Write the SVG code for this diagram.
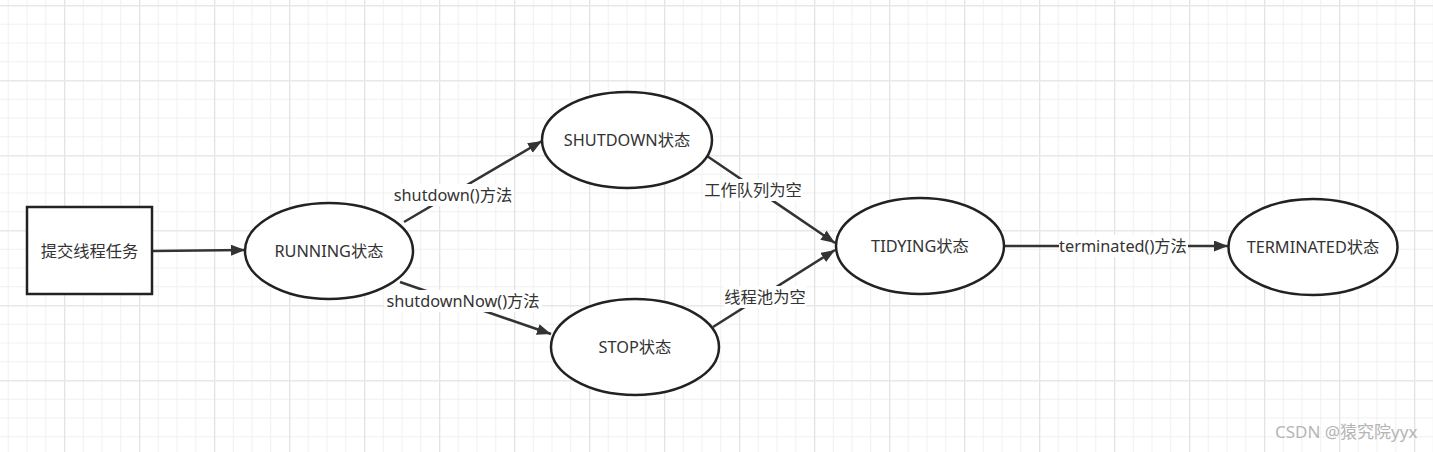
<svg xmlns="http://www.w3.org/2000/svg" width="1433" height="452" viewBox="0 0 1433 452">
<style>
.node{fill:#fff;stroke:#222;stroke-width:2.5}
.t{font-family:"Noto Sans","Noto Sans CJK SC",sans-serif;font-size:16.3px;fill:#333;text-anchor:middle;dominant-baseline:central}
.edge{stroke:#333;stroke-width:2.5;fill:none}
.lbg{fill:#fff}
.wm{font-family:"Noto Sans","Noto Sans CJK SC",sans-serif;font-size:17px;fill:#b5b5b5}
</style>
<defs>
<pattern id="grid" patternUnits="userSpaceOnUse" x="64" y="5" width="75" height="75">
<rect x="0" y="0" width="75" height="75" fill="#fff"/>
<rect x="18.75" y="0" width="1" height="75" fill="#f1f1f1"/>
<rect x="37.5" y="0" width="1" height="75" fill="#f1f1f1"/>
<rect x="56.25" y="0" width="1" height="75" fill="#f1f1f1"/>
<rect x="0" y="18.75" width="75" height="1" fill="#f1f1f1"/>
<rect x="0" y="37.5" width="75" height="1" fill="#f1f1f1"/>
<rect x="0" y="56.25" width="75" height="1" fill="#f1f1f1"/>
<rect x="0" y="0" width="1.3" height="75" fill="#e3e3e3"/>
<rect x="0" y="0" width="75" height="1.5" fill="#e8e8e8"/>
</pattern>
<marker id="arr" markerUnits="userSpaceOnUse" markerWidth="16" markerHeight="12" refX="14" refY="5.5" orient="auto">
<path d="M0,0 L14,5.5 L0,11 Z" fill="#333"/>
</marker>
</defs>
<rect width="1433" height="452" fill="url(#grid)"/>

<g id="connectors">
<line class="edge" x1="152" y1="251" x2="245" y2="250" marker-end="url(#arr)"/>
<line class="edge" x1="404" y1="222" x2="542" y2="141" marker-end="url(#arr)"/>
<line class="edge" x1="400" y1="282" x2="551" y2="334" marker-end="url(#arr)"/>
<line class="edge" x1="707" y1="156" x2="835" y2="243" marker-end="url(#arr)"/>
<line class="edge" x1="713" y1="327" x2="835" y2="250" marker-end="url(#arr)"/>
<line class="edge" x1="1004" y1="246" x2="1228" y2="246" marker-end="url(#arr)"/>
<g id="label-shutdown">
<rect class="lbg" x="392" y="184" width="122" height="22"/>
<text class="t" x="453" y="195">shutdown()方法</text>
</g>
<g id="label-shutdownNow">
<rect class="lbg" x="384" y="290" width="158" height="22"/>
<text class="t" x="463" y="301">shutdownNow()方法</text>
</g>
<g id="label-queue">
<rect class="lbg" x="704" y="179" width="98" height="22"/>
<text class="t" x="753" y="190">工作队列为空</text>
</g>
<g id="label-pool">
<rect class="lbg" x="724" y="286" width="82" height="22"/>
<text class="t" x="765" y="297">线程池为空</text>
</g>
<g id="label-terminated">
<rect class="lbg" x="1059" y="235" width="129" height="22"/>
<text class="t" x="1123" y="246">terminated()方法</text>
</g>
</g>

<g id="submit">
<rect class="node" x="27" y="207" width="125" height="87"/>
<text class="t" x="89.5" y="251">提交线程任务</text>
</g>
<g id="running">
<ellipse class="node" cx="329" cy="251" rx="84" ry="48"/>
<text class="t" x="329" y="251">RUNNING状态</text>
</g>
<g id="shutdown">
<ellipse class="node" cx="627" cy="140" rx="85" ry="48"/>
<text class="t" x="627" y="140">SHUTDOWN状态</text>
</g>
<g id="stop">
<ellipse class="node" cx="635" cy="347" rx="84" ry="48"/>
<text class="t" x="635" y="347">STOP状态</text>
</g>
<g id="tidying">
<ellipse class="node" cx="920" cy="246" rx="84" ry="48"/>
<text class="t" x="920" y="246">TIDYING状态</text>
</g>
<g id="terminated">
<ellipse class="node" cx="1313" cy="247" rx="84.5" ry="48"/>
<text class="t" x="1313" y="247">TERMINATED状态</text>
</g>
<text class="wm" x="1275" y="438">CSDN @猿究院yyx</text>
</svg>
